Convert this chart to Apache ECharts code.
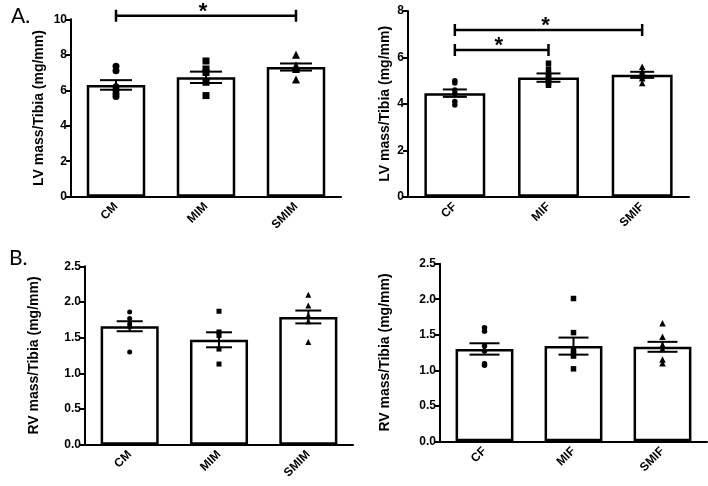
<!DOCTYPE html>
<html><head><meta charset="utf-8">
<script src="https://cdn.jsdelivr.net/npm/echarts@6/dist/echarts.min.js"></script>
<style>html,body{margin:0;padding:0;background:#fff}#c{width:708px;height:486px}</style>
</head><body><div id="c"></div>
<script>
// ---- data ----
const catsM = ['CM', 'MIM', 'SMIM'];
const catsF = ['CF', 'MIF', 'SMIF'];
const symbolsByGroup = ['circle', 'rect', 'triangle'];

const lvMaleMean = [6.3, 6.73, 7.31];
const lvMaleSem = [0.27, 0.32, 0.2];
const lvMalePts = [[7.35, 7.1, 6.2, 6.0, 5.8, 5.65], [7.65, 7.2, 7.0, 6.45, 5.7], [8.0, 7.4, 7.35, 7.3, 7.2, 6.6]];

const lvFemMean = [4.46, 5.13, 5.25];
const lvFemSem = [0.16, 0.18, 0.13];
const lvFemPts = [[5.0, 4.9, 4.6, 4.45, 4.1, 3.95], [5.75, 5.5, 5.3, 5.2, 5.1, 5.0, 4.9, 4.8], [5.6, 5.4, 5.3, 5.2, 5.1, 4.9]];

const rvMaleMean = [1.66, 1.47, 1.79];
const rvMaleSem = [0.07, 0.105, 0.09];
const rvMalePts = [[1.86, 1.77, 1.69, 1.65, 1.30], [1.87, 1.58, 1.53, 1.34, 1.13], [2.10, 1.95, 1.81, 1.73, 1.44]];

const rvFemMean = [1.30, 1.34, 1.33];
const rvFemSem = [0.08, 0.12, 0.07];
const rvFemPts = [[1.60, 1.55, 1.34, 1.27, 1.09, 1.07], [2.01, 1.53, 1.29, 1.23, 1.20, 1.02], [1.66, 1.47, 1.36, 1.30, 1.15, 1.10]];

// significance brackets: [fromIndex, toIndex, yValue]
const sigLvMale = [[0, 2, 10.2]];
const sigLvFem = [[0, 2, 7.18], [0, 1, 6.32]];

const yTitleLV = 'LV mass/Tibia (mg/mm)';
const yTitleRV = 'RV mass/Tibia (mg/mm)';

// ---- rendering ----
const FONT = "'Liberation Sans', Arial, sans-serif";
const chart = echarts.init(document.getElementById('c'));

const panels = [
  {cats: catsM, mean: lvMaleMean, sem: lvMaleSem, pts: lvMalePts, sig: sigLvMale, title: yTitleLV,
   grid: {left: 71, top: 19.3, width: 270, height: 177.4}, max: 10, interval: 2, dec: 0, gap: 25, sym: 7, cap: 16},
  {cats: catsF, mean: lvFemMean, sem: lvFemSem, pts: lvFemPts, sig: sigLvFem, title: yTitleLV,
   grid: {left: 408, top: 11, width: 281, height: 185.7}, max: 8, interval: 2, dec: 0, gap: 16, sym: 5.5, cap: 12},
  {cats: catsM, mean: rvMaleMean, sem: rvMaleSem, pts: rvMalePts, sig: [], title: yTitleRV,
   grid: {left: 85, top: 266.3, width: 268, height: 178.4}, max: 2.5, interval: 0.5, dec: 1, gap: 44, sym: 5, cap: 13},
  {cats: catsF, mean: rvFemMean, sem: rvFemSem, pts: rvFemPts, sig: [], title: yTitleRV,
   grid: {left: 440, top: 263.7, width: 267, height: 177.6}, max: 2.5, interval: 0.5, dec: 1, gap: 48, sym: 5.5, cap: 15}
];

function errRender(cap) {
  return function (params, api) {
    const x = api.value(0), m = api.value(1), s = api.value(2);
    const t = api.coord([x, m + s]);
    const b = api.coord([x, m - s]);
    const st = {stroke: '#000', lineWidth: 2};
    return {type: 'group', children: [
      {type: 'line', shape: {x1: t[0], y1: t[1], x2: b[0], y2: b[1]}, style: st},
      {type: 'line', shape: {x1: t[0] - cap, y1: t[1], x2: t[0] + cap, y2: t[1]}, style: st},
      {type: 'line', shape: {x1: b[0] - cap, y1: b[1], x2: b[0] + cap, y2: b[1]}, style: st}
    ]};
  };
}

function sigRender(params, api) {
  const a = api.coord([api.value(0), api.value(2)]);
  const b = api.coord([api.value(1), api.value(2)]);
  const h = 6;
  const st = {stroke: '#000', lineWidth: 2.5};
  return {type: 'group', children: [
    {type: 'line', shape: {x1: a[0], y1: a[1], x2: b[0], y2: b[1]}, style: st},
    {type: 'line', shape: {x1: a[0], y1: a[1] - h, x2: a[0], y2: a[1] + h}, style: st},
    {type: 'line', shape: {x1: b[0], y1: b[1] - h, x2: b[0], y2: b[1] + h}, style: st},
    {type: 'text', x: (a[0] + b[0]) / 2 - 3, y: a[1] + 7,
     style: {text: '*', fill: '#000', fontFamily: FONT, fontWeight: 'bold', fontSize: 22, align: 'center', verticalAlign: 'bottom'}}
  ]};
}

const option = {
  animation: false,
  backgroundColor: '#fff',
  textStyle: {fontFamily: FONT},
  title: [
    {text: 'A.', left: 6, top: 1, textStyle: {fontSize: 21, fontWeight: 'normal', fontFamily: 'Lato', color: '#000'}},
    {text: 'B.', left: 4, top: 243, textStyle: {fontSize: 21, fontWeight: 'normal', fontFamily: 'Lato', color: '#000'}}
  ],
  grid: [], xAxis: [], yAxis: [], series: []
};

panels.forEach((p, gi) => {
  option.grid.push(p.grid);
  option.xAxis.push({
    type: 'category', gridIndex: gi, data: p.cats,
    axisLine: {lineStyle: {color: '#000', width: 2}},
    axisTick: {alignWithLabel: true, length: 5, lineStyle: {color: '#000', width: 2}},
    axisLabel: {rotate: 45, margin: 8, color: '#000', fontWeight: 'bold', fontSize: 12, fontFamily: FONT},
    splitLine: {show: false}
  });
  option.yAxis.push({
    type: 'value', gridIndex: gi, min: 0, max: p.max, interval: p.interval,
    name: p.title, nameLocation: 'middle', nameGap: p.gap,
    nameTextStyle: {color: '#000', fontWeight: 'bold', fontSize: 14, fontFamily: FONT},
    axisLine: {show: true, lineStyle: {color: '#000', width: 2}},
    axisTick: {show: true, length: 5, lineStyle: {color: '#000', width: 2}},
    axisLabel: {color: '#000', fontWeight: 'bold', fontSize: 12, fontFamily: FONT, margin: 4,
      formatter: v => v.toFixed(p.dec)},
    splitLine: {show: false}
  });
  option.series.push({
    type: 'bar', xAxisIndex: gi, yAxisIndex: gi, data: p.mean, barWidth: '65%', z: 1,
    itemStyle: {color: '#fff', borderColor: '#000', borderWidth: 2.5}
  });
  p.pts.forEach((arr, ci) => {
    option.series.push({
      type: 'scatter', xAxisIndex: gi, yAxisIndex: gi, z: 3,
      symbol: symbolsByGroup[ci], symbolSize: ci === 2 ? p.sym + 1 : p.sym,
      itemStyle: {color: '#000', opacity: 1},
      data: arr.map(v => [ci, v])
    });
  });
  option.series.push({
    type: 'custom', xAxisIndex: gi, yAxisIndex: gi, z: 4, clip: false,
    renderItem: errRender(p.cap),
    data: p.mean.map((m, i) => [i, m, p.sem[i]])
  });
  if (p.sig.length) {
    option.series.push({
      type: 'custom', xAxisIndex: gi, yAxisIndex: gi, z: 5, clip: false,
      renderItem: sigRender, data: p.sig
    });
  }
});

chart.setOption(option);
</script></body></html>
